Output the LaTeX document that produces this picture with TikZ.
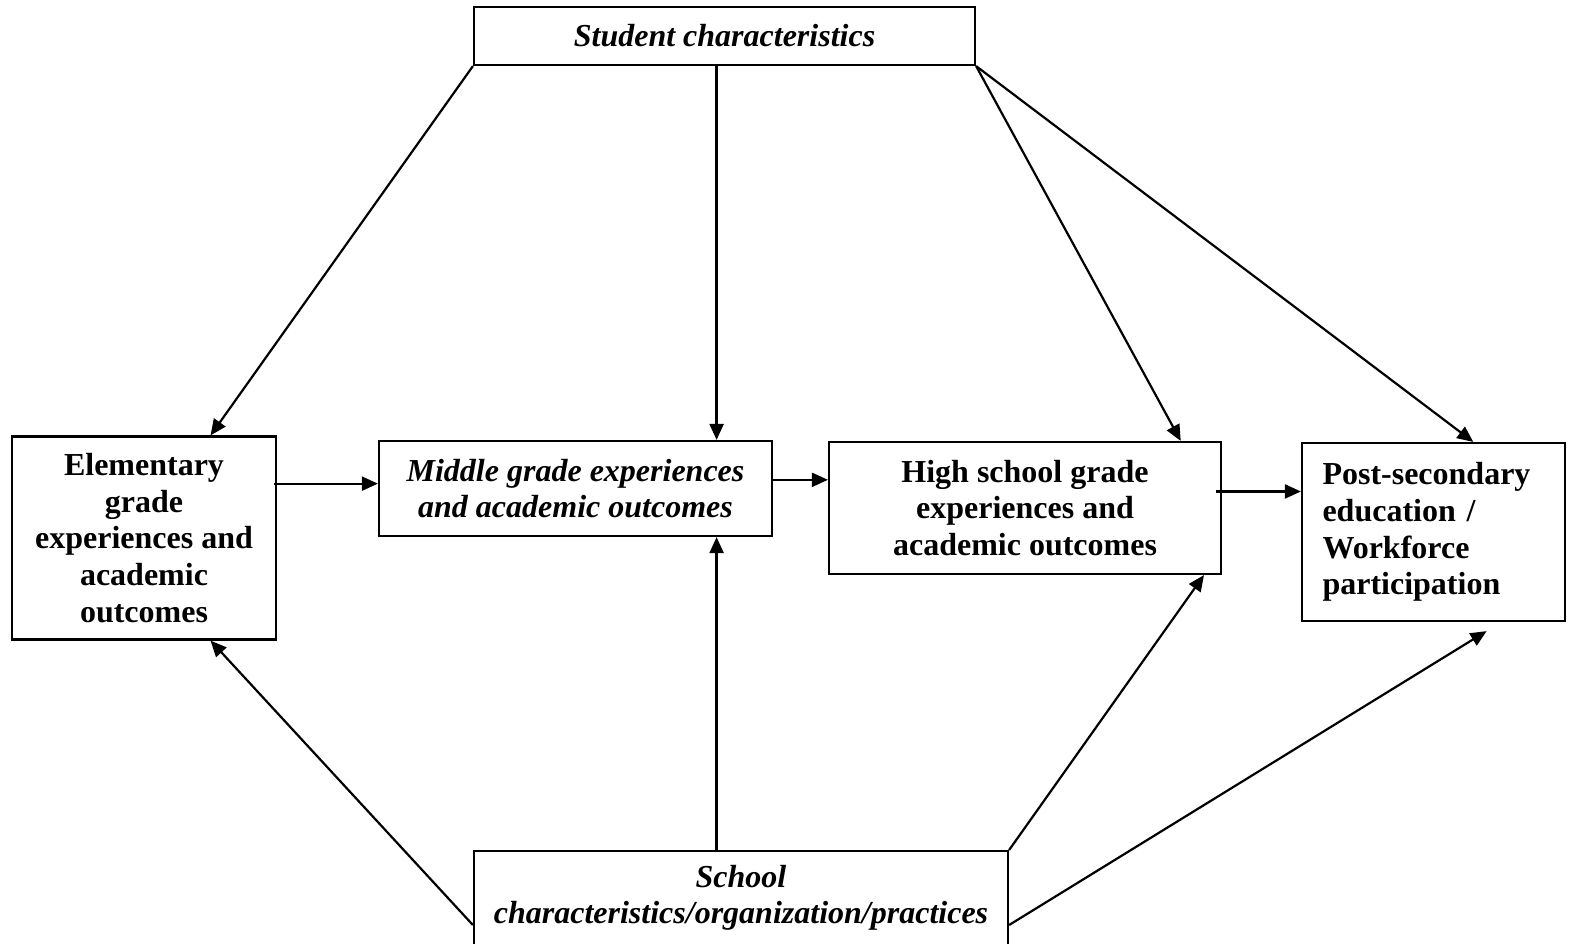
\documentclass[tikz,border=0pt]{standalone}
\usepackage{fontspec}
\setmainfont{Liberation Serif}
\usepackage{tikz}
\usetikzlibrary{arrows.meta, calc}

\begin{document}
\begin{tikzpicture}[x=0.5pt, y=-0.5pt,
      box/.style={draw, line width=1.1pt, inner sep=0pt, align=center,
                  font=\fontsize{16}{18.3}\selectfont\bfseries},
      ibox/.style={box, font=\fontsize{16}{18.3}\selectfont\bfseries\itshape},
      arr/.style={-{Triangle[length=8pt, width=7pt]}, line width=1.1pt}
    ]
    \useasboundingbox (0,0) rectangle (1577,943);

    \node[ibox, minimum width=250.5pt, minimum height=29pt] (stud) at (724.5,36) {Student characteristics};
    \node[box, minimum width=132pt, minimum height=101.5pt] (elem) at (144,538) {Elementary\\ grade\\ experiences and\\ academic\\ outcomes};
    \node[ibox, minimum width=196.5pt, minimum height=47.5pt] (mid) at (575.5,488.5) {Middle grade experiences\\ and academic outcomes};
    \node[box, minimum width=196pt, minimum height=66pt] (high) at (1025,508) {High school grade\\ experiences and\\ academic outcomes};
    \node[box, minimum width=131.5pt, minimum height=89pt, text width=111pt, align=left] (post) at (1433.5,532) {Post-secondary\\ education /\\ Workforce\\ participation};
    \node[ibox, minimum width=267pt, inner ysep=7pt, anchor=north] (school) at (741,850) {School\\ characteristics/organization/practices\\ \mbox{}};

    \coordinate (midTop) at ($(mid.north west)!0.857!(mid.north east)$);
    \coordinate (midBot) at ($(mid.south west)!0.857!(mid.south east)$);
    \coordinate (midIn) at ($(mid.north west)!0.45!(mid.south west)$);
    \coordinate (highIn) at ($(high.north west)!0.29!(high.south west)$);
    \coordinate (postIn) at ($(post.north west)!0.275!(post.south west)$);

    \draw[arr] (stud.south west) -- ($(elem.north west)!0.75!(elem.north east)$);
    \draw[arr] (stud.south -| midTop) -- (midTop);
    \draw[arr] (stud.south east) -- ($(high.north west)!0.895!(high.north east)$);
    \draw[arr] (stud.south east) -- ($(post.north west)!0.65!(post.north east)$);

    \draw[arr] ([xshift=-1.5pt]elem.east |- midIn) -- (midIn);
    \draw[arr] ([xshift=-1pt]mid.east |- highIn) -- (highIn);
    \draw[arr] ([xshift=-3pt]high.east |- postIn) -- (postIn);

    \draw[arr] ([yshift=-37.5pt]school.north west) -- ($(elem.south west)!0.75!(elem.south east)$);
    \draw[arr] (school.north -| midBot) -- (midBot);
    \draw[arr] (school.north east) -- ($(high.south west)!0.954!(high.south east)$);
    \draw[arr] ([yshift=-37.5pt]school.north east) -- ($(post.south west)!0.70!(post.south east)+(0,-4.5pt)$);
  \end{tikzpicture}
\end{document}
